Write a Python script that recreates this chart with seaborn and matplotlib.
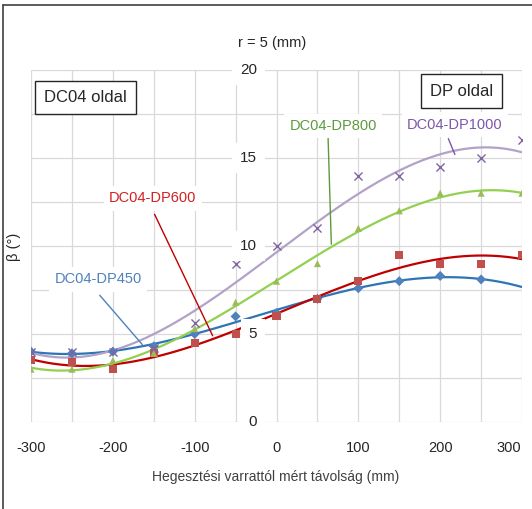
import numpy as np
import pandas as pd
import seaborn as sns
import matplotlib.pyplot as plt
from matplotlib.lines import Line2D

# distance from the weld (mm)
distances = [-300, -250, -200, -150, -100, -50, 0, 50, 100, 150, 200, 250, 300]

# measured beta angles (deg), r = 5 mm
dp450_x = [-300, -250, -200, -150, -100, -50, 0, 50, 100, 150, 200, 250]
dp450_y = [4.0, 3.9, 4.0, 4.3, 5.0, 6.0, 6.2, 7.0, 7.6, 8.0, 8.3, 8.1]
dp600_y = [3.5, 3.4, 3.0, 3.9, 4.5, 5.0, 6.0, 7.0, 8.0, 9.5, 9.0, 9.0, 9.5]
dp800_y = [3.0, 3.0, 3.5, 3.9, 5.3, 6.8, 8.0, 9.0, 11.0, 12.0, 13.0, 13.0, 13.0]
dp1000_y = [4.0, 4.0, 4.0, 4.2, 5.6, 9.0, 10.0, 11.0, 14.0, 14.0, 14.5, 15.0, 16.0]

series_names = ["DC04-DP450", "DC04-DP600", "DC04-DP800", "DC04-DP1000"]
marker_colors = ["#4F81BD", "#C0504D", "#9BBB59", "#8064A2"]
line_colors = ["#2E75B6", "#C00000", "#92D050", "#B3A2C7"]
text_colors = ["#4F81BD", "#D42020", "#5E9A3C", "#7E55A8"]
leader_colors = ["#4F81BD", "#C00000", "#5E9A3C", "#7E55A8"]
markers = ["D", "s", "^", "x"]

pts = pd.concat([
    pd.DataFrame({"x": dp450_x, "beta": dp450_y, "series": series_names[0]}),
    pd.DataFrame({"x": distances, "beta": dp600_y, "series": series_names[1]}),
    pd.DataFrame({"x": distances, "beta": dp800_y, "series": series_names[2]}),
    pd.DataFrame({"x": distances, "beta": dp1000_y, "series": series_names[3]}),
], ignore_index=True)

# 3rd order polynomial trendlines, like the excel chart
xs = np.linspace(-300, 300, 200)
trend = []
for name, g in pts.groupby("series"):
    c = np.polyfit(g["x"] / 100, g["beta"], 3)
    trend.append(pd.DataFrame({"x": xs, "beta": np.polyval(c, xs / 100), "series": name}))
trend = pd.concat(trend, ignore_index=True)

sns.set_style("white")
plt.rcParams["font.family"] = ["Liberation Sans", "DejaVu Sans"]

fig = plt.figure(figsize=(5.32, 5.09), dpi=100)
ax = fig.add_axes([31 / 532, 1 - 422 / 509, 491 / 532, 352 / 509])

for name, mc, lc, m in zip(series_names, marker_colors, line_colors, markers):
    d = pts[pts["series"] == name]
    t = trend[trend["series"] == name]
    sns.lineplot(data=t, x="x", y="beta", color=lc, lw=1.6, ax=ax, zorder=3)
    if m == "x":
        sns.scatterplot(data=d, x="x", y="beta", marker="x", color=mc, s=34,
                        linewidth=1.0, ax=ax, zorder=4)
    else:
        sz = 34 if m == "s" else 26
        sns.scatterplot(data=d, x="x", y="beta", marker=m, color=mc, s=sz,
                        edgecolor="none", ax=ax, zorder=4)

ax.set_xlim(-300, 300)
ax.set_ylim(0, 20)
ax.set_xticks(np.arange(-300, 301, 50))
ax.set_yticks(np.arange(0, 20.1, 2.5))
ax.grid(True, color="#D9D9D9", lw=0.9)
ax.tick_params(axis="y", left=False, labelleft=False)
ax.tick_params(axis="x", bottom=False, labelbottom=False)
for s in ax.spines.values():
    s.set_visible(False)
ax.set_xlabel("")
ax.set_ylabel("")

# x tick labels every 100 (the last one is pulled in so it fits)
for v in range(-300, 301, 100):
    if v == 300:
        ax.text(299, -1.1, str(v), ha="right", va="top", fontsize=10.5, color="#262626")
    else:
        ax.text(v, -1.1, str(v), ha="center", va="top", fontsize=10.5, color="#262626")

# y tick labels sit next to the x = 0 line
for v in range(0, 21, 5):
    ax.annotate(str(v), (0, v), xytext=(-14, 0), textcoords="offset points",
                ha="right", va="center", fontsize=11, color="#262626", zorder=6,
                bbox=dict(boxstyle="square,pad=0.5", fc="white", ec="none"))

fig.text(272 / 532, 1 - 43 / 509, "r = 5 (mm)", ha="center", va="center", fontsize=10.5)
fig.text(276 / 532, 1 - 477 / 509, "Hegesztési varrattól mért távolság (mm)",
         ha="center", va="center", fontsize=10, color="#404040")
fig.text(14 / 532, 1 - 247 / 509, "β (°)", ha="center", va="center", rotation=90,
         fontsize=10.5, color="#262626")

# callouts: label position, leader start, leader end (data units)
callouts = [
    ((-218, 8.1), (-216, 7.2), (-164, 4.4)),
    ((-151, 12.7), (-149, 11.8), (-78, 4.9)),
    ((69, 16.8), (63, 16.2), (67, 10.1)),
    ((218, 16.9), (210, 16.1), (218, 15.2)),
]
for label, (tpos, p0, p1), col, lcol in zip(series_names, callouts, text_colors, leader_colors):
    ax.plot([p0[0], p1[0]], [p0[1], p1[1]], color=lcol, lw=1.0, zorder=5)
    ax.text(tpos[0], tpos[1], label, ha="center", va="center", fontsize=10.5,
            color=col, zorder=6,
            bbox=dict(boxstyle="square,pad=0.35", fc="white", ec="none"))

# side boxes
ax.text(-233, 18.45, "DC04 oldal", ha="center", va="center", fontsize=12, zorder=7,
        bbox=dict(boxstyle="square,pad=0.55", fc="white", ec="#262626", lw=1.0))
ax.text(226, 18.8, "DP oldal", ha="center", va="center", fontsize=12, zorder=7,
        bbox=dict(boxstyle="square,pad=0.55", fc="white", ec="#262626", lw=1.0))

# outer frame (top and left edges only)
fig.add_artist(Line2D([3 / 532, 1], [1 - 5 / 509, 1 - 5 / 509], color="#404040", lw=1.2))
fig.add_artist(Line2D([3 / 532, 3 / 532], [0, 1 - 5 / 509], color="#404040", lw=1.2))

fig.savefig("out.png", dpi=100)
